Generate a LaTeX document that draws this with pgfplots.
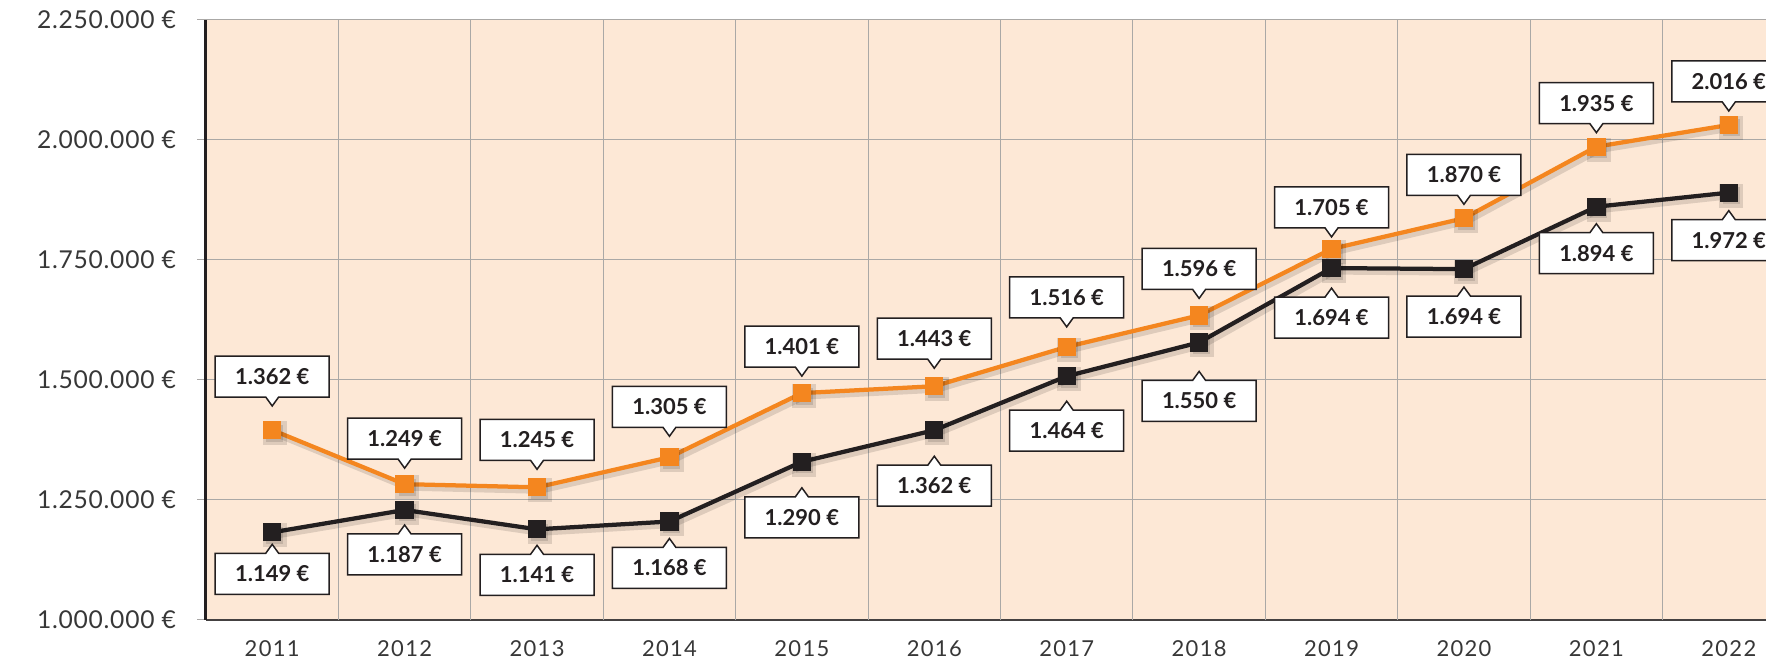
\documentclass[border=0pt]{standalone}
\usepackage{fontspec}
\setmainfont{Lato}
\usepackage{pgfplots}
\usepackage{pgfplotstable}
\pgfplotsset{compat=1.18}
\usetikzlibrary{calc}

\definecolor{peach}{RGB}{253,232,214}
\definecolor{lineorange}{RGB}{244,134,31}
\definecolor{lineblack}{RGB}{35,31,32}
\definecolor{gridgray}{RGB}{170,168,166}
\definecolor{ticktext}{RGB}{55,55,55}

\pgfplotstableread{
x    y
2011 1395800
2012 1283000
2013 1276400
2014 1339000
2015 1472700
2016 1487000
2017 1569000
2018 1634600
2019 1773100
2020 1836900
2021 1986100
2022 2031250
}\orangedata

\pgfplotstableread{
x    y
2011 1182600
2012 1229200
2013 1188900
2014 1205200
2015 1329600
2016 1395400
2017 1507900
2018 1578300
2019 1733100
2020 1731000
2021 1861000
2022 1890300
}\blackdata

\tikzset{
    lbox/.style={draw=lineblack, fill=white, line width=0.03cm, line join=miter},
    ltext/.style={text=lineblack, font=\bfseries\fontsize{12.5}{14}\selectfont, inner sep=0pt},
}
% callout above a point: #1 point, #2 gap of the tip in px, #3 text
\newcommand{\callup}[3]{%
  \begin{scope}[shift={(#1)}, yshift=#2*0.02cm]
    \draw[lbox] (0,0) -- (-0.13,0.18) -- (-1.14,0.18) -- (-1.14,1.0)
      -- (1.14,1.0) -- (1.14,0.18) -- (0.13,0.18) -- cycle;
    \node[ltext] at (0,0.59) {#3};
  \end{scope}}
% callout below a point
\newcommand{\calldn}[3]{%
  \begin{scope}[shift={(#1)}, yshift=-#2*0.02cm]
    \draw[lbox] (0,0) -- (-0.13,-0.18) -- (-1.14,-0.18) -- (-1.14,-1.0)
      -- (1.14,-1.0) -- (1.14,-0.18) -- (0.13,-0.18) -- cycle;
    \node[ltext] at (0,-0.59) {#3};
  \end{scope}}

\begin{document}
\begin{tikzpicture}
\begin{axis}[
    width=31.78cm, height=12cm, scale only axis,
    xmin=2010.5, xmax=2022.5,
    ymin=1000000, ymax=2250000,
    scaled y ticks=false,
    xtick={2011,2012,2013,2014,2015,2016,2017,2018,2019,2020,2021,2022},
    xticklabels={2011,2012,2013,2014,2015,2016,2017,2018,2019,2020,2021,2022},
    ytick={1000000,1250000,1500000,1750000,2000000,2250000},
    yticklabels={1.000.000~€,1.250.000~€,1.500.000~€,1.750.000~€,2.000.000~€,2.250.000~€},
    axis x line*=bottom, axis y line*=left,
    x axis line style={-, draw=lineblack!85, line width=0.04cm},
    y axis line style={-, draw=lineblack, line width=0.06cm},
    ymajorgrids, grid style={gridgray, line width=0.02cm},
    tick align=outside, major tick length=0.18cm,
    ytick style={draw=gridgray, line width=0.02cm},
    xtick style={draw=none},
    axis background/.style={fill=peach},
    yticklabel style={font=\fontsize{14}{16}\selectfont\addfontfeature{LetterSpace=3},
        text=ticktext, xshift=-0.3cm},
    xticklabel style={font=\fontsize{12.5}{14}\selectfont\addfontfeature{LetterSpace=6},
        text=ticktext, yshift=-0.1cm},
    clip=false,
]
\coordinate (O) at (rel axis cs:0,0);

% vertical separators between the years
\pgfplotsinvokeforeach{2011.5,2012.5,2013.5,2014.5,2015.5,2016.5,2017.5,2018.5,2019.5,2020.5,2021.5}{
    \draw[gridgray, line width=0.02cm] (axis cs:#1,1000000) -- (axis cs:#1,2250000);
}

% soft shadows under the lines
\addplot[black, opacity=0.12, line width=0.14cm, mark=square*, mark size=0.17cm,
    xshift=0.05cm, yshift=-0.06cm] table[x=x,y=y]{\blackdata};
\addplot[black, opacity=0.12, line width=0.14cm, mark=square*, mark size=0.17cm,
    xshift=0.05cm, yshift=-0.06cm] table[x=x,y=y]{\orangedata};

\addplot[lineblack, line width=0.085cm, mark=square*, mark size=0.14cm,
    mark options={solid}] table[x=x,y=y]{\blackdata};
\addplot[lineorange, line width=0.085cm, mark=square*, mark size=0.14cm,
    mark options={solid}] table[x=x,y=y]{\orangedata};

% anchor points for the callouts
\coordinate (o1) at (axis cs:2011,1395800);
\coordinate (o2) at (axis cs:2012,1283000);
\coordinate (o3) at (axis cs:2013,1276400);
\coordinate (o4) at (axis cs:2014,1339000);
\coordinate (o5) at (axis cs:2015,1472700);
\coordinate (o6) at (axis cs:2016,1487000);
\coordinate (o7) at (axis cs:2017,1569000);
\coordinate (o8) at (axis cs:2018,1634600);
\coordinate (o9) at (axis cs:2019,1773100);
\coordinate (o10) at (axis cs:2020,1836900);
\coordinate (o11) at (axis cs:2021,1986100);
\coordinate (o12) at (axis cs:2022,2031250);
\coordinate (b1) at (axis cs:2011,1182600);
\coordinate (b2) at (axis cs:2012,1229200);
\coordinate (b3) at (axis cs:2013,1188900);
\coordinate (b4) at (axis cs:2014,1205200);
\coordinate (b5) at (axis cs:2015,1329600);
\coordinate (b6) at (axis cs:2016,1395400);
\coordinate (b7) at (axis cs:2017,1507900);
\coordinate (b8) at (axis cs:2018,1578300);
\coordinate (b9) at (axis cs:2019,1733100);
\coordinate (b10) at (axis cs:2020,1731000);
\coordinate (b11) at (axis cs:2021,1861000);
\coordinate (b12) at (axis cs:2022,1890300);
\end{axis}

% callouts (the printed figures, placed by hand as in the original)
\callup{o1}{24}{1.362~€}
\callup{o2}{16}{1.249~€}
\callup{o3}{18}{1.245~€}
\callup{o4}{21}{1.305~€}
\callup{o5}{17}{1.401~€}
\callup{o6}{18}{1.443~€}
\callup{o7}{20}{1.516~€}
\callup{o8}{17}{1.596~€}
\callup{o9}{12}{1.705~€}
\callup{o10}{14}{1.870~€}
\callup{o11}{14}{1.935~€}
\callup{o12}{14}{2.016~€}

\calldn{b1}{12}{1.149~€}
\calldn{b2}{15}{1.187~€}
\calldn{b3}{16}{1.141~€}
\calldn{b4}{17}{1.168~€}
\calldn{b5}{26}{1.290~€}
\calldn{b6}{26}{1.362~€}
\calldn{b7}{25}{1.464~€}
\calldn{b8}{29}{1.550~€}
\calldn{b9}{20}{1.694~€}
\calldn{b10}{18}{1.694~€}
\calldn{b11}{17}{1.894~€}
\calldn{b12}{18}{1.972~€}

\pgfresetboundingbox
\path[use as bounding box] ($(O)+(-4.12cm,-0.8cm)$) rectangle ++(35.32cm,13.2cm);
\end{tikzpicture}
\end{document}
